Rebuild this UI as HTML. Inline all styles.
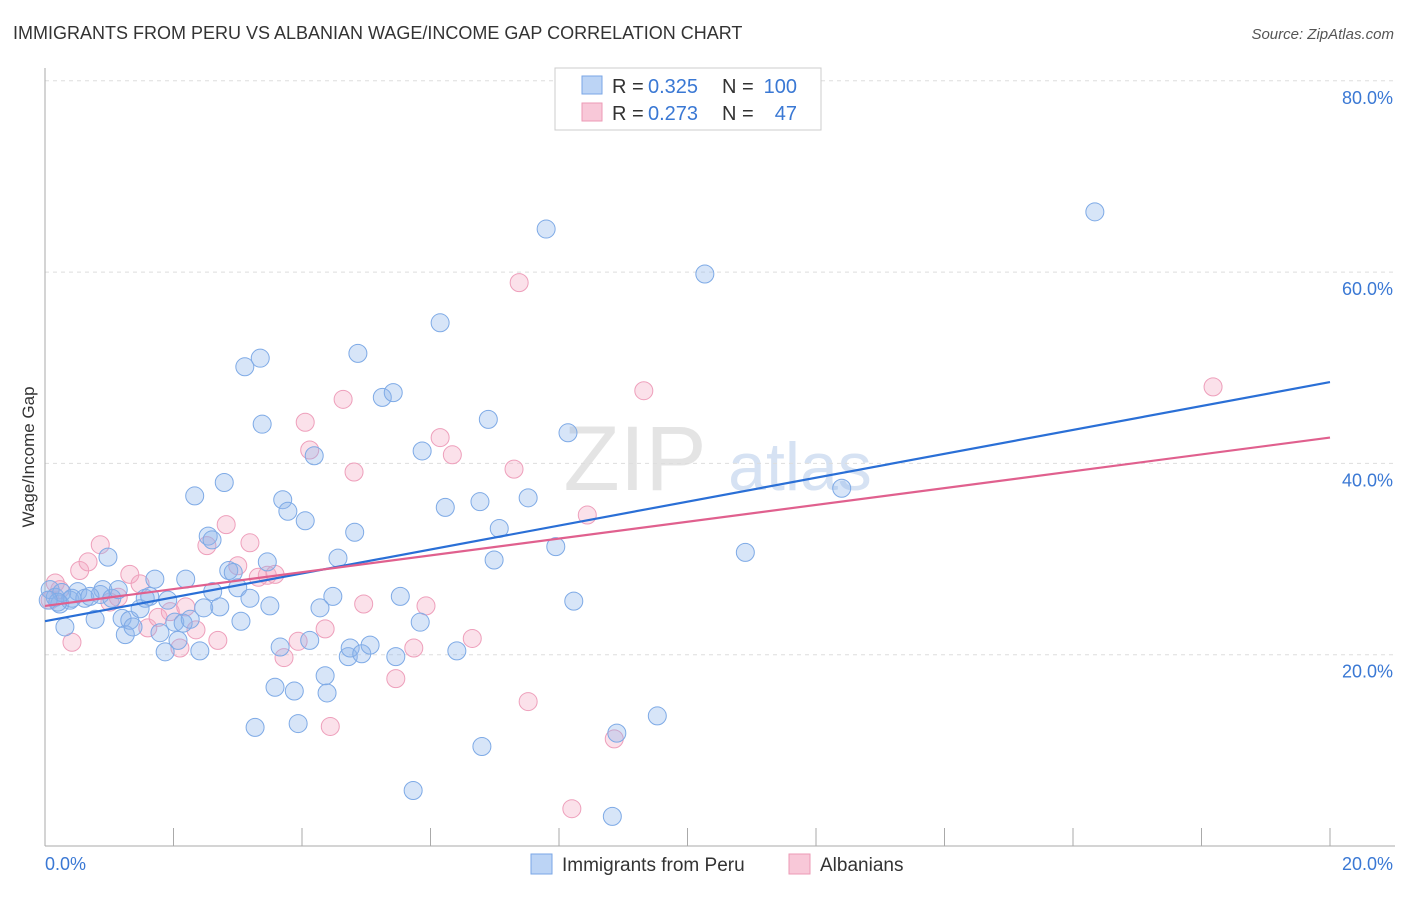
<!DOCTYPE html>
<html><head><meta charset="utf-8"><style>
body{margin:0;background:#fff;font-family:"Liberation Sans",sans-serif;}
svg text{font-family:"Liberation Sans",sans-serif;}
</style></head><body>
<svg width="1406" height="892" xmlns="http://www.w3.org/2000/svg">
<text x="13" y="39" font-size="18" fill="#333">IMMIGRANTS FROM PERU VS ALBANIAN WAGE/INCOME GAP CORRELATION CHART</text>
<text x="1394" y="39" font-size="15" fill="#555" font-style="italic" text-anchor="end">Source: ZipAtlas.com</text>
<g>
<text x="635" y="490" font-size="92" fill="#e4e4e4" font-family="Liberation Serif" text-anchor="middle">ZIP</text>
<text x="800" y="490" font-size="68" fill="#d6e2f3" text-anchor="middle">atlas</text>
</g>
<g id="grid"></g>
<g id="axes"></g>
<g id="pts-pink"></g>
<g id="pts-blue"></g>
<g id="trends"></g>
<g>
<rect x="555" y="68" width="266" height="62" fill="#fff" stroke="#ccc"/>
<rect x="582" y="76" width="20" height="18" fill="#bcd4f5" stroke="#7aa6e6"/>
<rect x="582" y="103" width="20" height="18" fill="#f8c8d8" stroke="#ec9ab6"/>
<text x="612" y="93" font-size="20" fill="#333">R =</text>
<text x="648" y="93" font-size="20" fill="#3a78d4">0.325</text>
<text x="722" y="93" font-size="20" fill="#333">N =</text>
<text x="797" y="93" font-size="20" fill="#3a78d4" text-anchor="end">100</text>
<text x="612" y="120" font-size="20" fill="#333">R =</text>
<text x="648" y="120" font-size="20" fill="#3a78d4">0.273</text>
<text x="722" y="120" font-size="20" fill="#333">N =</text>
<text x="797" y="120" font-size="20" fill="#3a78d4" text-anchor="end">47</text>
</g>
<text x="0" y="0" transform="translate(34,457) rotate(-90)" font-size="17" fill="#333" text-anchor="middle">Wage/Income Gap</text>
<text x="45" y="870" font-size="18" fill="#3a78d4">0.0%</text>
<text x="1393" y="870" font-size="18" fill="#3a78d4" text-anchor="end">20.0%</text>
<g>
<rect x="531" y="854" width="21" height="20" fill="#bcd4f5" stroke="#7aa6e6"/>
<text x="562" y="871" font-size="19" fill="#333">Immigrants from Peru</text>
<rect x="789" y="854" width="21" height="20" fill="#f8c8d8" stroke="#ec9ab6"/>
<text x="820" y="871" font-size="19" fill="#333">Albanians</text>
</g>
</svg>
<script>
const xTicks=[0,2,4,6,8,10,12,14,16,18,20];
const yTicks=[20,40,60,80];
const yTickLabels=["20.0%","40.0%","60.0%","80.0%"];
const peruX=[.08,.16,.23,.31,.39,.51,.62,.78,.86,.90,.98,1.04,1.14,1.20,1.25,1.32,1.37,1.48,1.56,1.63,1.71,1.79,1.87,1.91,2.02,2.07,2.15,2.19,2.26,2.33,2.41,2.47,2.54,2.61,2.60,2.72,2.79,2.86,2.93,3.00,3.05,3.11,3.19,3.27,3.35,3.38,3.46,3.50,3.58,3.66,3.70,3.78,3.88,3.94,4.05,4.12,4.19,4.28,4.36,4.39,4.48,4.56,4.72,4.75,4.82,4.87,4.93,5.06,5.25,5.42,5.46,5.53,5.73,5.84,5.87,6.15,6.23,6.41,6.77,6.80,6.90,6.99,7.07,7.52,7.80,7.95,8.14,8.23,8.83,8.90,9.53,10.27,10.90,12.40,16.34,.26,.42,.70,.20,.05];
const peruY=[26.8,26.0,25.3,22.9,25.7,26.6,25.9,23.7,26.3,26.8,30.2,25.9,26.8,23.8,22.1,23.6,22.9,24.8,25.9,26.1,27.9,22.3,20.3,25.7,23.4,21.5,23.3,27.9,23.7,36.6,20.4,24.9,32.4,26.6,32.0,25.0,38.0,28.8,28.6,27.0,23.5,50.1,25.9,12.4,51.0,44.1,29.7,25.1,16.6,20.8,36.2,35.0,16.2,12.8,34.0,21.5,40.8,24.9,17.8,16.0,26.1,30.1,19.8,20.7,32.8,51.5,20.1,21.0,46.9,47.4,19.8,26.1,5.8,23.4,41.3,54.7,35.4,20.4,36.0,10.4,44.6,29.9,33.2,36.4,64.5,31.3,43.2,25.6,3.1,11.8,13.6,59.8,30.7,37.4,66.3,26.5,25.9,26.1,25.5,25.7];
const albX=[.08,.16,.23,.42,.54,.67,.86,1.01,1.14,1.32,1.48,1.60,1.76,1.95,2.10,2.19,2.35,2.52,2.69,2.82,3.00,3.19,3.32,3.46,3.58,3.72,3.94,4.05,4.12,4.36,4.44,4.64,4.81,4.96,5.46,5.74,5.93,6.15,6.34,6.65,7.30,7.38,7.52,8.20,8.44,8.86,9.32,18.18];
const albY=[25.7,27.5,26.8,21.3,28.8,29.7,31.5,25.5,26.0,28.4,27.4,22.8,23.9,24.5,20.7,25.0,22.6,31.4,21.5,33.6,29.3,31.7,28.1,28.3,28.4,19.7,21.4,44.3,41.4,22.7,12.5,46.7,39.1,25.3,17.5,20.7,25.1,42.7,40.9,21.7,39.4,58.9,15.1,3.9,34.6,11.2,47.6,48.0];
const peruTrend=[23.5,48.5];
const albTrend=[25.1,42.7];
const NS="http://www.w3.org/2000/svg";
const X0=45,X1=1330,Y0=846,YPER=9.565;
function sx(v){return X0+(v/20)*(X1-X0);}
function sy(v){return Y0-v*YPER;}
function mk(tag,attrs,parent){const e=document.createElementNS(NS,tag);for(const k in attrs)e.setAttribute(k,attrs[k]);parent.appendChild(e);return e;}
const grid=document.getElementById('grid'),axes=document.getElementById('axes');
yTicks.forEach((t,i)=>{
 const l=mk('line',{x1:X0,x2:1395,y1:sy(t),y2:sy(t),stroke:'#ddd','stroke-dasharray':'4,4'},grid);
 
 
 const tx=mk('text',{x:1393,y:sy(t)+23,'font-size':18,fill:'#3a78d4','text-anchor':'end'},grid);
 tx.textContent=yTickLabels[i];
 
 
});
mk('line',{x1:X0,x2:X0,y1:68,y2:Y0,stroke:'#aaa'},axes);
mk('line',{x1:X0,x2:1395,y1:Y0,y2:Y0,stroke:'#aaa'},axes);
xTicks.forEach(t=>{
 const l=mk('line',{x1:sx(t),x2:sx(t),y1:Y0,y2:Y0-18,stroke:'#aaa'},axes);
 
 
});
function pts(xs,ys,g,fill,stroke,name){
 xs.forEach((x,i)=>{
  const c=mk('circle',{cx:sx(x),cy:sy(ys[i]),r:9,fill:fill,stroke:stroke,'stroke-width':1},g);
  
  
 });
}
pts(albX,albY,document.getElementById('pts-pink'),'rgba(244,170,196,0.35)','#ee9fbb','albanians-point');
pts(peruX,peruY,document.getElementById('pts-blue'),'rgba(140,180,235,0.35)','#7eaae6','peru-point');
const tr=document.getElementById('trends');
const t1=mk('line',{x1:sx(0),y1:sy(peruTrend[0]),x2:sx(20),y2:sy(peruTrend[1]),stroke:'#2a6fd6','stroke-width':2.2},tr);


const t2=mk('line',{x1:sx(0),y1:sy(albTrend[0]),x2:sx(20),y2:sy(albTrend[1]),stroke:'#e0608e','stroke-width':2.2},tr);


</script>
</body></html>
